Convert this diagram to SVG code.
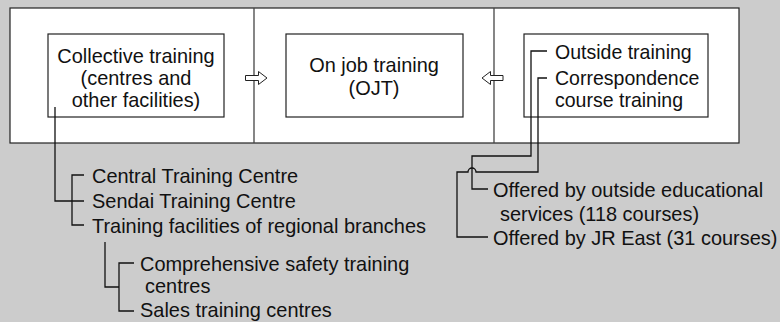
<svg xmlns="http://www.w3.org/2000/svg" width="780" height="322" viewBox="0 0 780 322">
<style>
text{font-family:"Liberation Sans",Arial,sans-serif;font-size:21px;fill:#111}
.box{fill:#fff;stroke:#222;stroke-width:1.2}
.ln{fill:none;stroke:#111;stroke-width:1.3}
.div{fill:none;stroke:#444;stroke-width:1.3}
.arr{fill:#fff;stroke:#222;stroke-width:1}
</style>
<rect width="780" height="322" fill="#cccccc"/>
<g id="frame">
<rect x="10" y="8" width="729" height="135" class="box"/>
<line x1="254" y1="8" x2="254" y2="143" class="div"/>
<line x1="494" y1="8" x2="494" y2="143" class="div"/>
</g>
<g id="collective">
<rect x="48" y="34" width="176" height="83" class="box"/>
<text transform="translate(136,63) scale(0.95,1)" text-anchor="middle">Collective training</text>
<text transform="translate(136,85) scale(0.95,1)" text-anchor="middle">(centres and</text>
<text transform="translate(136,107) scale(0.95,1)" text-anchor="middle">other facilities)</text>
</g>
<g id="ojt">
<rect x="286" y="34" width="177" height="83" class="box"/>
<text transform="translate(374,72) scale(0.95,1)" text-anchor="middle">On job training</text>
<text transform="translate(374,95) scale(0.95,1)" text-anchor="middle">(OJT)</text>
</g>
<g id="outside">
<rect x="524" y="34" width="184" height="83" class="box"/>
<text transform="translate(555,59) scale(0.93,1)">Outside training</text>
<text transform="translate(555,85) scale(0.93,1)">Correspondence</text>
<text transform="translate(555,107) scale(0.93,1)">course training</text>
</g>
<g id="arrows">
<path d="M245.5,75.5 H258.5 V71.5 L267,78 L258.5,84.5 V80.5 H245.5 Z" class="arr"/>
<path d="M503,75.5 H490.5 V71.5 L482,78 L490.5,84.5 V80.5 H503 Z" class="arr"/>
</g>
<g id="collective-list">
<text transform="translate(92,183) scale(0.95,1)">Central Training Centre</text>
<text transform="translate(92,208) scale(0.95,1)">Sendai Training Centre</text>
<text transform="translate(92,233) scale(0.95,1)">Training facilities of regional branches</text>
</g>
<g id="regional-list">
<text transform="translate(140,271) scale(0.95,1)">Comprehensive safety training</text>
<text transform="translate(145,293) scale(0.95,1)">centres</text>
<text transform="translate(140,317) scale(0.95,1)">Sales training centres</text>
</g>
<g id="outside-list">
<text transform="translate(493,197) scale(0.95,1)">Offered by outside educational</text>
<text transform="translate(500,221) scale(0.95,1)">services (118 courses)</text>
<text transform="translate(493,245) scale(0.95,1)">Offered by JR East (31 courses)</text>
</g>
<g id="connectors">
<path d="M55,107 V201 H84" class="ln"/>
<path d="M84,175 H72 V225 H84" class="ln"/>
<path d="M105,242 V287 H119" class="ln"/>
<path d="M134,263 H119 V311 H134" class="ln"/>
<path d="M547,51 H531 V156 H472 V189 H488" class="ln"/>
<path d="M547,78 H538 V172 H476 A4,4 0 0 0 468,172 H457 V237 H488" class="ln"/>
</g>
</svg>
